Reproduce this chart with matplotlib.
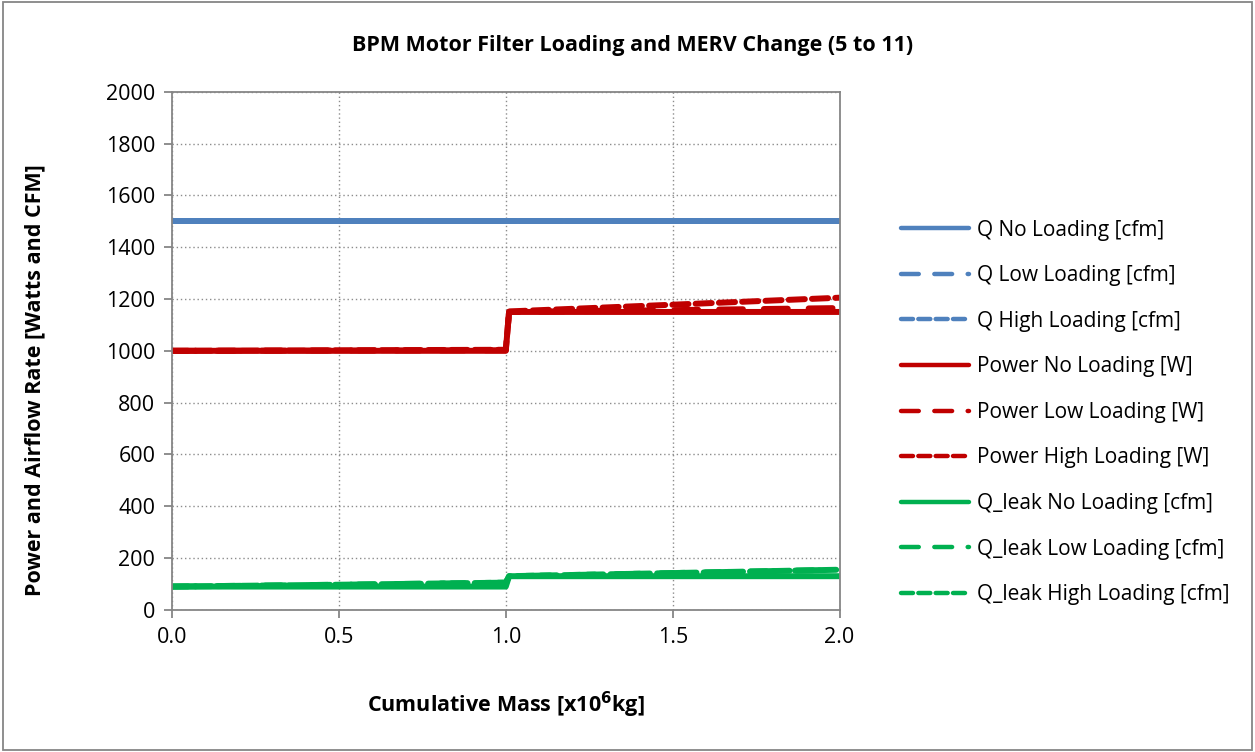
import matplotlib.pyplot as plt
import numpy as np

plt.rcParams['font.family'] = ['Open Sans', 'DejaVu Sans']

# cumulative mass, x10^6 kg (filter changed from MERV 5 to 11 at 1.0)
mass = [0.0, 0.5, 1.0, 1.01, 1.5, 2.0]

q_no = [1500, 1500, 1500, 1500, 1500, 1500]
q_low = [1500, 1500, 1500, 1500, 1500, 1500]
q_high = [1500, 1500, 1500, 1500, 1500, 1500]

p_no = [1000, 1000, 1000, 1150, 1150, 1150]
p_low = [1000, 1001, 1002, 1150, 1157, 1165]
p_high = [1000, 1002, 1004, 1152, 1178, 1205]

leak_no = [90, 90, 90, 130, 130, 130]
leak_low = [90, 97, 105, 130, 142, 155]
leak_high = [90, 97, 105, 130, 142, 155]

names = ["Q No Loading [cfm]", "Q Low Loading [cfm]", "Q High Loading [cfm]",
         "Power No Loading [W]", "Power Low Loading [W]", "Power High Loading [W]",
         "Q_leak No Loading [cfm]", "Q_leak Low Loading [cfm]", "Q_leak High Loading [cfm]"]

blue = '#4f81bd'
red = '#c00000'
green = '#00b050'
styles = ['-', (0, (4, 3.5)), (0, (2.7, 1.2))]

fig = plt.figure(figsize=(12.55, 7.52), dpi=100)
ax = fig.add_axes([0.137, 0.189, 0.532, 0.689])

series = [q_no, q_low, q_high, p_no, p_low, p_high, leak_no, leak_low, leak_high]
cols = [blue] * 3 + [red] * 3 + [green] * 3
for i in range(9):
    ax.plot(mass, series[i], color=cols[i], linestyle=styles[i % 3], lw=4.3,
            solid_capstyle='round', dash_capstyle='round', label=names[i])

ax.set_xlim(0, 2.0)
ax.set_ylim(0, 2000)
ax.set_xticks(np.arange(0, 2.01, 0.5))
ax.set_xticklabels(["%.1f" % v for v in np.arange(0, 2.01, 0.5)])
ax.set_yticks(range(0, 2001, 200))
ax.grid(True, color='#8c8c8c', linestyle=(0, (1, 2)), lw=1)
for s in ax.spines.values():
    s.set_color('#868686')
    s.set_linewidth(1.3)
ax.tick_params(labelsize=15.5, color='#868686', length=6, width=1.3, pad=6)

fig.text(0.504, 0.940, "BPM Motor Filter Loading and MERV Change (5 to 11)",
         fontsize=15.5, fontweight='bold', ha='center', va='center')
ax.set_xlabel(r"Cumulative Mass [x10$^{\mathbf{6}}$kg]", fontsize=15.5,
              fontweight='bold')
ax.xaxis.set_label_coords(0.5, -0.183)
ax.xaxis.label.set_va('center')
ax.set_ylabel("Power and Airflow Rate [Watts and CFM]", fontsize=15.5,
              fontweight='bold')
ax.yaxis.set_label_coords(-0.205, 0.444)
ax.yaxis.label.set_va('center')

leg = ax.legend(loc='upper left', bbox_to_anchor=(0.7026, 0.733),
                bbox_transform=fig.transFigure, frameon=False,
                fontsize=15, handlelength=3.3, handletextpad=0.35,
                labelspacing=1.18)
for h in leg.get_lines():
    h.set_linewidth(3.2)

fig.patches.append(plt.Rectangle((0.002, 0.002), 0.996, 0.996, transform=fig.transFigure,
                                 fill=False, edgecolor='#868686', lw=1.3))

fig.savefig('out.png', dpi=100)
